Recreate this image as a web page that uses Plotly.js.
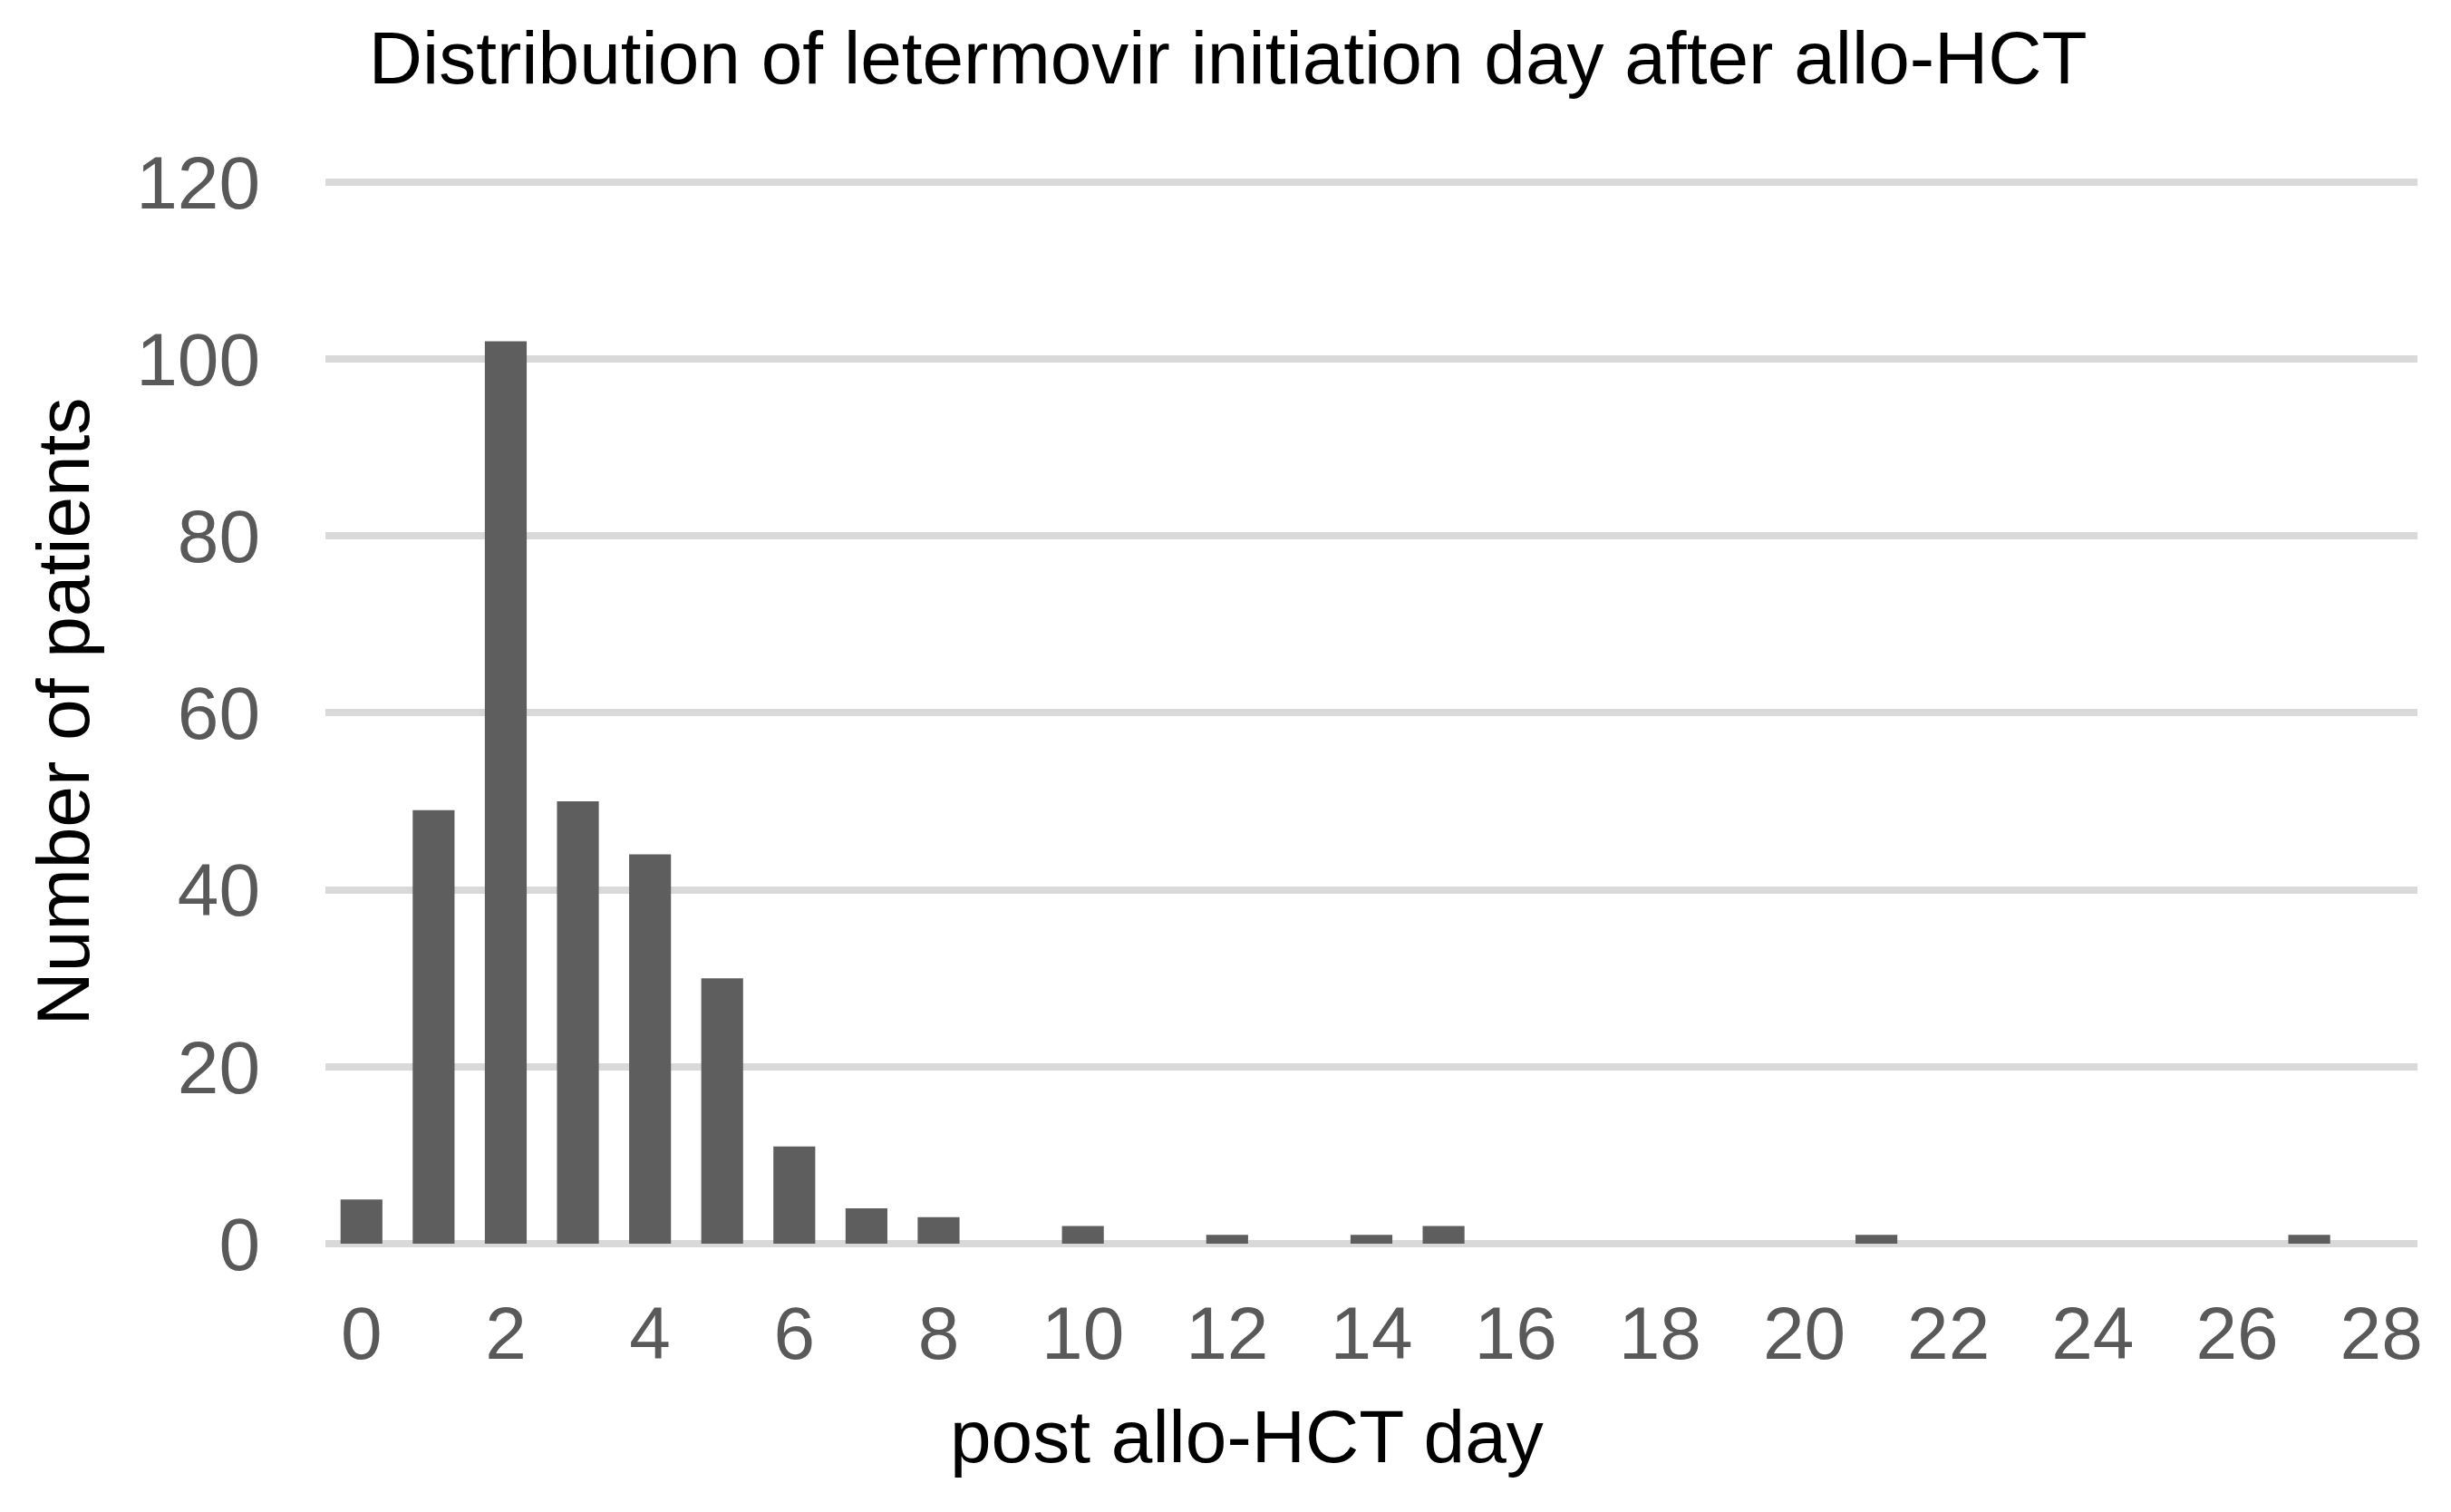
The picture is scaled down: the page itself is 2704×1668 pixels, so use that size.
<!DOCTYPE html>
<html>
<head>
<meta charset="utf-8">
<script src="https://cdn.plot.ly/plotly-3.0.1.min.js"></script>
<style>
  html, body { margin: 0; padding: 0; background: #ffffff; }
  #chart { width: 2704px; height: 1668px; }
</style>
</head>
<body>
<div id="chart"></div>
<script>
// Post allo-HCT day (categories) and number of patients starting letermovir
const days = [0, 1, 2, 3, 4, 5, 6, 7, 8, 9, 10, 11, 12, 13, 14, 15, 16, 17, 18, 19, 20, 21, 22, 23, 24, 25, 26, 27, 28];
const patients = [5, 49, 102, 50, 44, 30, 11, 4, 3, 0, 2, 0, 1, 0, 1, 2, 0, 0, 0, 0, 0, 1, 0, 0, 0, 0, 0, 1, 0];
const xTickVals = [0, 2, 4, 6, 8, 10, 12, 14, 16, 18, 20, 22, 24, 26, 28];
const yTickVals = [0, 20, 40, 60, 80, 100, 120];

const titleText = 'Distribution of letermovir initiation day after allo-HCT';
const xTitleText = 'post allo-HCT day';
const yTitleText = 'Number of patients';

const FONT = '"Liberation Sans", Arial, Helvetica, sans-serif';

const trace = {
  type: 'bar',
  x: days,
  y: patients,
  marker: { color: '#5e5e5e', line: { width: 0 } },
  hoverinfo: 'x+y'
};

const layout = {
  width: 2704,
  height: 1668,
  paper_bgcolor: '#ffffff',
  plot_bgcolor: '#ffffff',
  margin: { l: 359, r: 37, t: 198, b: 296, pad: 0 },
  bargap: 0.42,
  showlegend: false,
  font: { family: FONT, color: '#595959', size: 82 },
  title: {
    text: titleText,
    font: { family: FONT, size: 82, color: '#000000' },
    x: 0.501,
    xanchor: 'center',
    xref: 'container',
    y: 0.962,
    yanchor: 'middle',
    yref: 'container'
  },
  xaxis: {
    type: 'linear',
    range: [-0.5, 28.5],
    tickmode: 'array',
    tickvals: xTickVals,
    ticktext: xTickVals.map(String),
    showgrid: false,
    zeroline: false,
    showline: false,
    ticks: '',
    ticklabelstandoff: 44,
    tickfont: { family: FONT, size: 82, color: '#595959' },
    automargin: false,
    fixedrange: true
  },
  yaxis: {
    range: [0, 120.3],
    tickmode: 'array',
    tickvals: yTickVals,
    ticktext: yTickVals.map(String),
    showgrid: true,
    gridcolor: '#d9d9d9',
    gridwidth: 8,
    zeroline: true,
    zerolinecolor: '#d9d9d9',
    zerolinewidth: 8,
    showline: false,
    ticks: '',
    ticklabelstandoff: 71,
    tickfont: { family: FONT, size: 82, color: '#595959' },
    title: {
      text: yTitleText,
      font: { family: FONT, size: 82, color: '#000000' },
      standoff: 24
    },
    automargin: false,
    fixedrange: true
  },
  annotations: [{
    text: xTitleText,
    xref: 'paper',
    yref: 'paper',
    x: 0.4405,
    y: -0.181,
    xanchor: 'center',
    yanchor: 'middle',
    showarrow: false,
    font: { family: FONT, size: 82, color: '#000000' }
  }]
};

Plotly.newPlot('chart', [trace], layout, { displayModeBar: false, staticPlot: true });
</script>
</body>
</html>
